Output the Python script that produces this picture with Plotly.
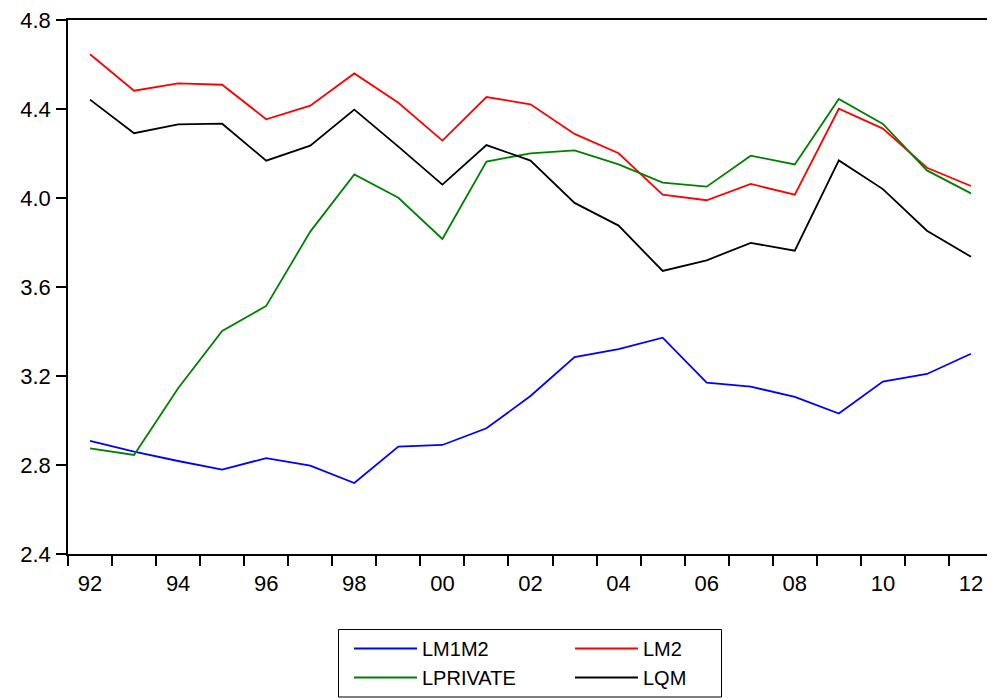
import plotly.graph_objects as go

years = list(range(1992, 2013))
tick_years = [1992, 1994, 1996, 1998, 2000, 2002, 2004, 2006, 2008, 2010, 2012]
tick_labels = ["92", "94", "96", "98", "00", "02", "04", "06", "08", "10", "12"]
y_ticks = [2.4, 2.8, 3.2, 3.6, 4.0, 4.4, 4.8]
y_labels = ["2.4", "2.8", "3.2", "3.6", "4.0", "4.4", "4.8"]

lm1m2 = [2.908, 2.860, 2.818, 2.779, 2.831, 2.797, 2.719, 2.883, 2.890, 2.965, 3.110,
         3.285, 3.321, 3.372, 3.170, 3.152, 3.106, 3.031, 3.175, 3.209, 3.300]
lm2 = [4.646, 4.482, 4.515, 4.509, 4.354, 4.415, 4.560, 4.428, 4.258, 4.454, 4.421,
       4.288, 4.201, 4.015, 3.990, 4.063, 4.015, 4.401, 4.312, 4.136, 4.054]
lprivate = [2.875, 2.845, 3.145, 3.402, 3.515, 3.849, 4.106, 4.001, 3.816, 4.164, 4.201,
            4.214, 4.151, 4.069, 4.051, 4.190, 4.151, 4.445, 4.333, 4.124, 4.021]
lqm = [4.442, 4.291, 4.331, 4.334, 4.168, 4.235, 4.397, 4.231, 4.060, 4.238, 4.168,
       3.978, 3.876, 3.672, 3.720, 3.798, 3.763, 4.169, 4.040, 3.853, 3.736]

series = [
    ("LM1M2", lm1m2, "#0000FF", "legend"),
    ("LM2", lm2, "#FF0000", "legend2"),
    ("LPRIVATE", lprivate, "#008000", "legend"),
    ("LQM", lqm, "#000000", "legend2"),
]

FONT = "Liberation Sans, Arial, sans-serif"

fig = go.Figure()
for name, vals, color, lg in series:
    fig.add_trace(go.Scatter(x=years, y=vals, mode="lines", name=name,
                             line=dict(color=color, width=1.8), legend=lg))

# The page body has an 8px margin, so the figure is drawn offset by (8, 8).
OFF = 8
W, H = 995 - OFF, 698 - OFF
ml, mr, mt, mb = 60, 2, 12, 144
pw, ph = W - ml - mr, H - mt - mb

def sx(px):  # screen px -> paper x
    return (px - OFF - ml) / pw

def sy(py):  # screen px -> paper y
    return (H - mb - (py - OFF)) / ph

legend_common = dict(xanchor="left", yanchor="top", orientation="v",
                     bgcolor="rgba(0,0,0,0)", borderwidth=0,
                     font=dict(family=FONT, size=20, color="black"),
                     itemwidth=63, tracegroupgap=0)

fig.update_layout(
    width=W, height=H,
    margin=dict(l=ml, r=mr, t=mt, b=mb, autoexpand=False),
    paper_bgcolor="white", plot_bgcolor="white",
    font=dict(family=FONT, size=22, color="black"),
    showlegend=True,
    legend=dict(x=sx(349), y=sy(629), **legend_common),
    legend2=dict(x=sx(570), y=sy(629), **legend_common),
    shapes=[dict(type="rect", xref="paper", yref="paper",
                 x0=sx(338.5), x1=sx(721.5), y0=sy(629.5), y1=sy(697),
                 line=dict(color="black", width=1), fillcolor="rgba(0,0,0,0)")],
)

fig.update_xaxes(
    range=[1991.5, 2012.5],
    tickmode="array", tickvals=tick_years, ticktext=tick_labels,
    ticks="", ticklabelstandoff=9, ticklabeloverflow="allow",
    showgrid=False, zeroline=False,
    showline=True, linecolor="black", linewidth=1.5, mirror=True,
    tickfont=dict(family=FONT, size=22, color="black"),
    minor=dict(tickmode="linear", tick0=1991.5, dtick=1, ticks="outside",
               ticklen=10, tickwidth=1.5, tickcolor="black", showgrid=False),
)
fig.update_yaxes(
    range=[2.4, 4.8],
    tickmode="array", tickvals=y_ticks, ticktext=y_labels,
    ticks="outside", ticklen=10, tickwidth=1.5, tickcolor="black",
    ticklabelstandoff=1, ticklabeloverflow="allow",
    showgrid=False, zeroline=False,
    showline=True, linecolor="black", linewidth=1.5, mirror=True,
    tickfont=dict(family=FONT, size=22, color="black"),
)

fig.write_html("out.html")
